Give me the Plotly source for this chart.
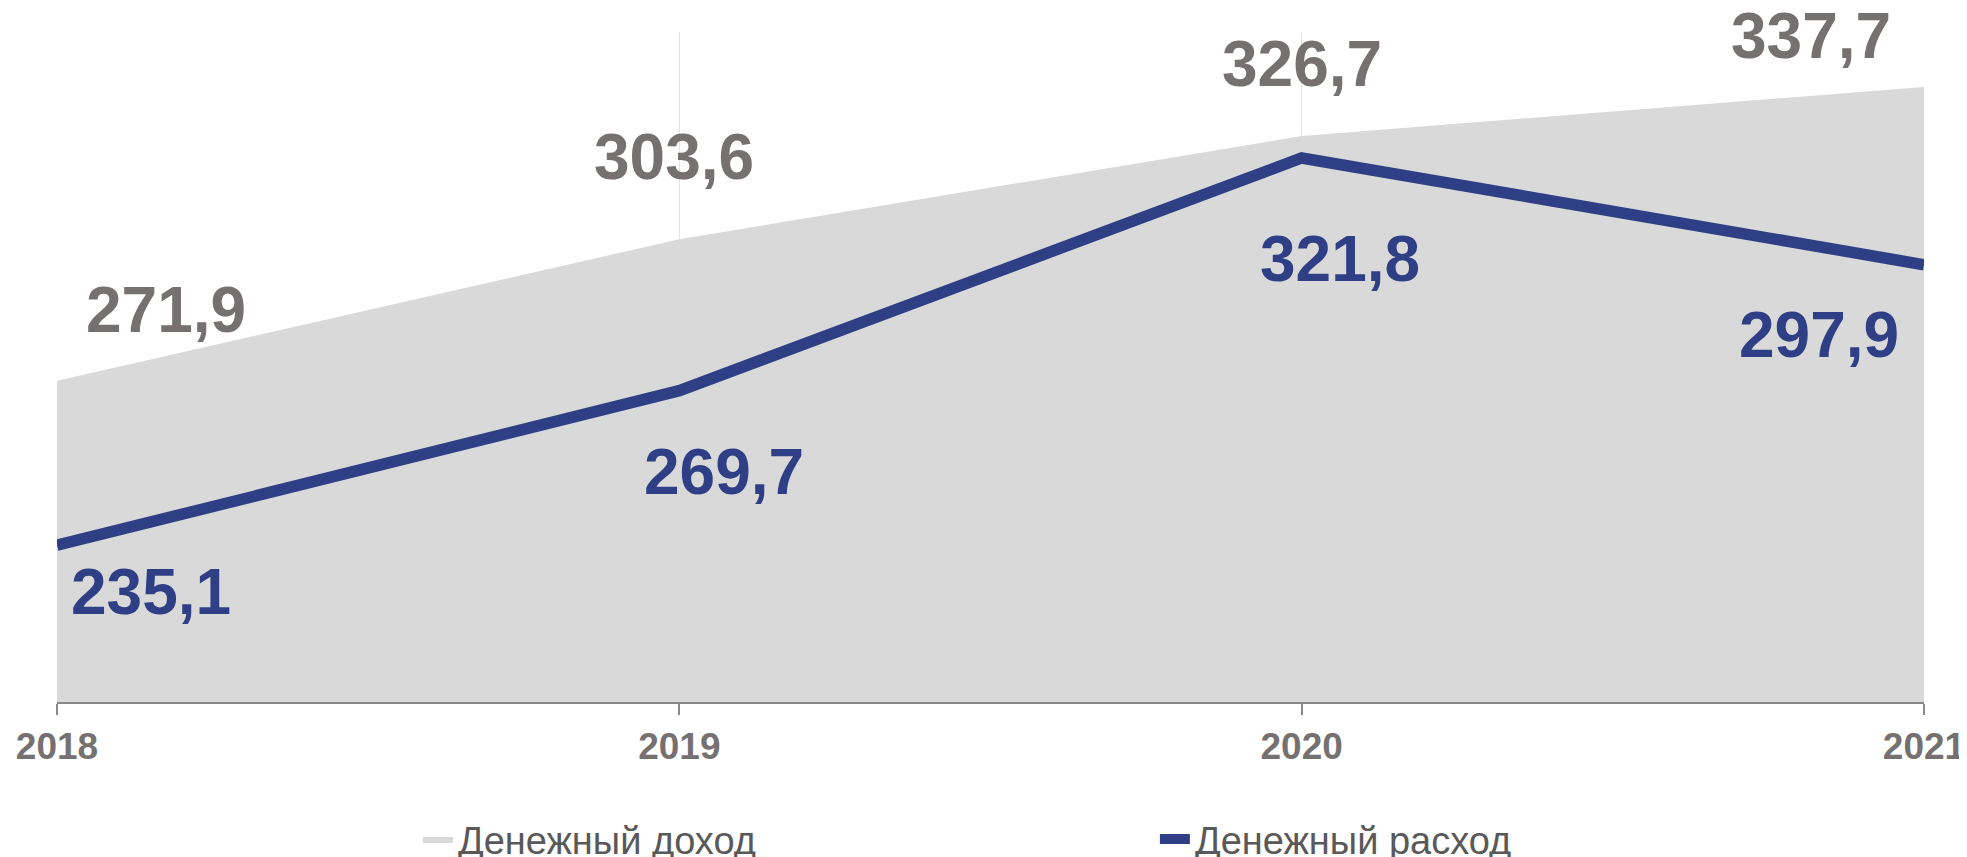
import plotly.graph_objects as go

years = ["2018", "2019", "2020", "2021"]
income = [271.9, 303.6, 326.7, 337.7]
expense = [235.1, 269.7, 321.8, 297.9]
income_labels = ["271,9", "303,6", "326,7", "337,7"]
expense_labels = ["235,1", "269,7", "321,8", "297,9"]

# label offsets (style only), in px: (xshift, yshift)
income_shift = [(109, 71), (-5, 82), (0, 72), (-113, 51)]
expense_shift = [(94, -47), (45, -81), (38, -101), (-105, -70)]

GRAY_FILL = "#D9D9D9"
BLUE = "#2F3F86"
LABEL_GRAY = "#767171"
FONT = "Arial, Liberation Sans, sans-serif"

fig = go.Figure()
fig.add_trace(go.Scatter(
    x=years, y=income, name="Денежный доход", mode="lines",
    fill="tozeroy", fillcolor=GRAY_FILL, line=dict(width=0, color=GRAY_FILL),
    hoverinfo="skip"))
fig.add_trace(go.Scatter(
    x=years, y=expense, name="Денежный расход", mode="lines",
    line=dict(width=11.5, color=BLUE), hoverinfo="skip"))

annotations = []
for i, (v, t, (dx, dy)) in enumerate(zip(income, income_labels, income_shift)):
    annotations.append(dict(x=i, y=v, xref="x", yref="y", text=t, showarrow=False,
                            xanchor="center", yanchor="middle", xshift=dx, yshift=dy,
                            font=dict(family=FONT, size=64, color=LABEL_GRAY, weight="bold")))
for i, (v, t, (dx, dy)) in enumerate(zip(expense, expense_labels, expense_shift)):
    annotations.append(dict(x=i, y=v, xref="x", yref="y", text=t, showarrow=False,
                            xanchor="center", yanchor="middle", xshift=dx, yshift=dy,
                            font=dict(family=FONT, size=64, color=BLUE, weight="bold")))

fig.update_layout(
    width=1959, height=849,
    margin=dict(l=49, r=43, t=24, b=155, autoexpand=False),
    paper_bgcolor="white", plot_bgcolor="white",
    font=dict(family=FONT),
    showlegend=True,
    legend=dict(orientation="h", x=0.1933, xanchor="left", y=-0.205, yanchor="middle",
                font=dict(family=FONT, size=38, color="#595959"),
                entrywidth=692, entrywidthmode="pixels",
                bgcolor="rgba(0,0,0,0)", borderwidth=0),
    annotations=annotations,
    xaxis=dict(type="category", range=[0, 3], showgrid=True, gridcolor="#E3E3E3", gridwidth=1,
               showline=True, linecolor="#898989", linewidth=2,
               ticks="outside", ticklen=11, tickwidth=1.5, tickcolor="#898989",
               tickfont=dict(family=FONT, size=37, color=LABEL_GRAY, weight="bold"),
               zeroline=False, fixedrange=True),
    yaxis=dict(range=[200, 350], showgrid=False, showticklabels=False, zeroline=False,
               showline=False, ticks=""),
)

fig.write_html("out.html")
